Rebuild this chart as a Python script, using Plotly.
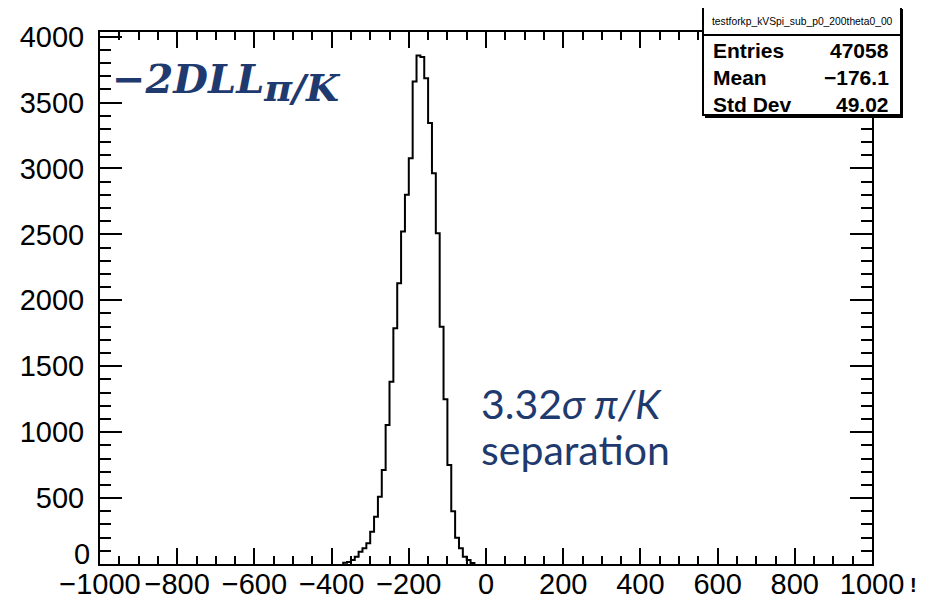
import plotly.graph_objects as go

# ---------------- data ----------------
bin_width = 10
first_edge = -370
counts = [10, 15, 30, 55, 93, 119, 157, 245, 359, 511, 713, 1055, 1383, 1788,
          2130, 2521, 2800, 3078, 3660, 3857, 3845, 3685, 3344, 2964, 2509,
          1800, 1250, 750, 400, 200, 119, 55, 30, 8]

x_ticks = [-1000, -800, -600, -400, -200, 0, 200, 400, 600, 800, 1000]
x_ticktext = ["\u22121000", "\u2212800", "\u2212600", "\u2212400", "\u2212200",
              "0", "200", "400", "600", "800", "1000"]
y_ticks = [0, 500, 1000, 1500, 2000, 2500, 3000, 3500, 4000]

stats_title = "testforkp_kVSpi_sub_p0_200theta0_00"
stats_names = ["Entries", "Mean", "Std Dev"]
stats_values = ["47058", "\u2212176.1", "49.02"]

# histogram outline (step)
xs = [first_edge + i * bin_width for i in range(len(counts) + 1)]
ys = counts + [counts[-1]]
xs = [first_edge] + xs
ys = [0] + ys
xs = xs + [xs[-1]]
ys = ys + [0]

# page has an 8px body margin, so the figure is drawn 8px smaller and shifted
OFF = 8
W, H = 935 - OFF, 603 - OFF
L, T = 100 - OFF, 32 - OFF
pw, ph = 772, 532
R, B = W - L - pw, H - T - ph

def px(x):  # reference pixel -> paper
    return (x - OFF - L) / pw

def py(y):
    return (H - B - (y - OFF)) / ph

fig = go.Figure()
fig.add_trace(go.Scatter(x=xs, y=ys, mode="lines", line=dict(color="black", width=2, shape="hv"),
                         hoverinfo="skip", showlegend=False))

font_tick = dict(family="Liberation Sans, Arial", size=29, color="black")
axis_common = dict(showline=True, linecolor="black", linewidth=2, mirror="ticks",
                   ticks="inside", tickcolor="black", tickwidth=2, showgrid=False,
                   zeroline=False, tickfont=font_tick, automargin=False)

fig.update_layout(
    width=W, height=H,
    margin=dict(l=L, r=R, t=T, b=B, pad=0),
    plot_bgcolor="white", paper_bgcolor="white",
    xaxis=dict(range=[-1000, 1000], tickvals=x_ticks, ticktext=x_ticktext, ticklen=16,
               tickangle=0, ticklabelstandoff=-7,
               minor=dict(dtick=50, tick0=-1000, ticks="inside", ticklen=8, tickwidth=2,
                          tickcolor="black", showgrid=False),
               **axis_common),
    yaxis=dict(range=[0, 4035], tickvals=y_ticks[1:], ticklen=22, ticklabelstandoff=8,
               minor=dict(dtick=100, tick0=0, ticks="inside", ticklen=11, tickwidth=2,
                          tickcolor="black", showgrid=False),
               **axis_common),
)

# y "0" label shifted up like ROOT
fig.add_annotation(xref="paper", yref="y", x=0, y=0, xanchor="right", yanchor="middle",
                   xshift=-8, yshift=10, text="0", showarrow=False, font=font_tick)

navy = "#1f3a6e"
fig.add_annotation(xref="paper", yref="paper", x=px(110), y=py(82), xanchor="left", yanchor="middle",
                   text="<b><i>\u22122DLL<sub><span style='font-size:38px'>\u03c0/K</span></sub></i></b>",
                   showarrow=False,
                   font=dict(family="DejaVu Serif", size=40, color=navy))
fig.add_annotation(xref="paper", yref="paper", x=px(479), y=py(403), xanchor="left", yanchor="middle",
                   text="3.32<i>\u03c3 \u03c0/K</i>", showarrow=False,
                   font=dict(family="Lato", size=41, color=navy))
fig.add_annotation(xref="paper", yref="paper", x=px(479), y=py(449), xanchor="left", yanchor="middle",
                   text="separation", showarrow=False,
                   font=dict(family="Lato", size=41, color=navy))

# stats box
bx0, bx1, by0, by1, bsep = 703, 901, 7, 115, 35
fig.add_shape(type="rect", xref="paper", yref="paper", x0=px(bx0 + 2), x1=px(bx1 + 2),
              y0=py(by1 + 3), y1=py(by0 + 2), fillcolor="black", line=dict(width=0), layer="above")
fig.add_shape(type="rect", xref="paper", yref="paper", x0=px(bx0), x1=px(bx1),
              y0=py(by1), y1=py(by0), fillcolor="white", line=dict(color="black", width=2), layer="above")
fig.add_shape(type="line", xref="paper", yref="paper", x0=px(bx0), x1=px(bx1),
              y0=py(bsep), y1=py(bsep), line=dict(color="black", width=2), layer="above")
fig.add_annotation(xref="paper", yref="paper", x=px((bx0 + bx1) / 2), y=py((by0 + bsep) / 2),
                   text=stats_title, showarrow=False, xanchor="center", yanchor="middle",
                   font=dict(family="Liberation Sans, Arial", size=10.3, color="black"))
row_y = [51, 78, 105]
for name, val, ry in zip(stats_names, stats_values, row_y):
    fig.add_annotation(xref="paper", yref="paper", x=px(711), y=py(ry), text="<b>" + name + "</b>",
                       showarrow=False, xanchor="left", yanchor="middle",
                       font=dict(family="Liberation Sans, Arial", size=21, color="black"))
    fig.add_annotation(xref="paper", yref="paper", x=px(891), y=py(ry), text="<b>" + val + "</b>",
                       showarrow=False, xanchor="right", yanchor="middle",
                       font=dict(family="Liberation Sans, Arial", size=21, color="black"))

# cropped glyph at the bottom-right edge of the reference
fig.add_annotation(xref="paper", yref="paper", x=px(913), y=py(585), text="<b>!</b>",
                   showarrow=False, xanchor="center", yanchor="middle",
                   font=dict(family="Liberation Sans, Arial", size=20, color="black"))

fig.write_html("out.html")
